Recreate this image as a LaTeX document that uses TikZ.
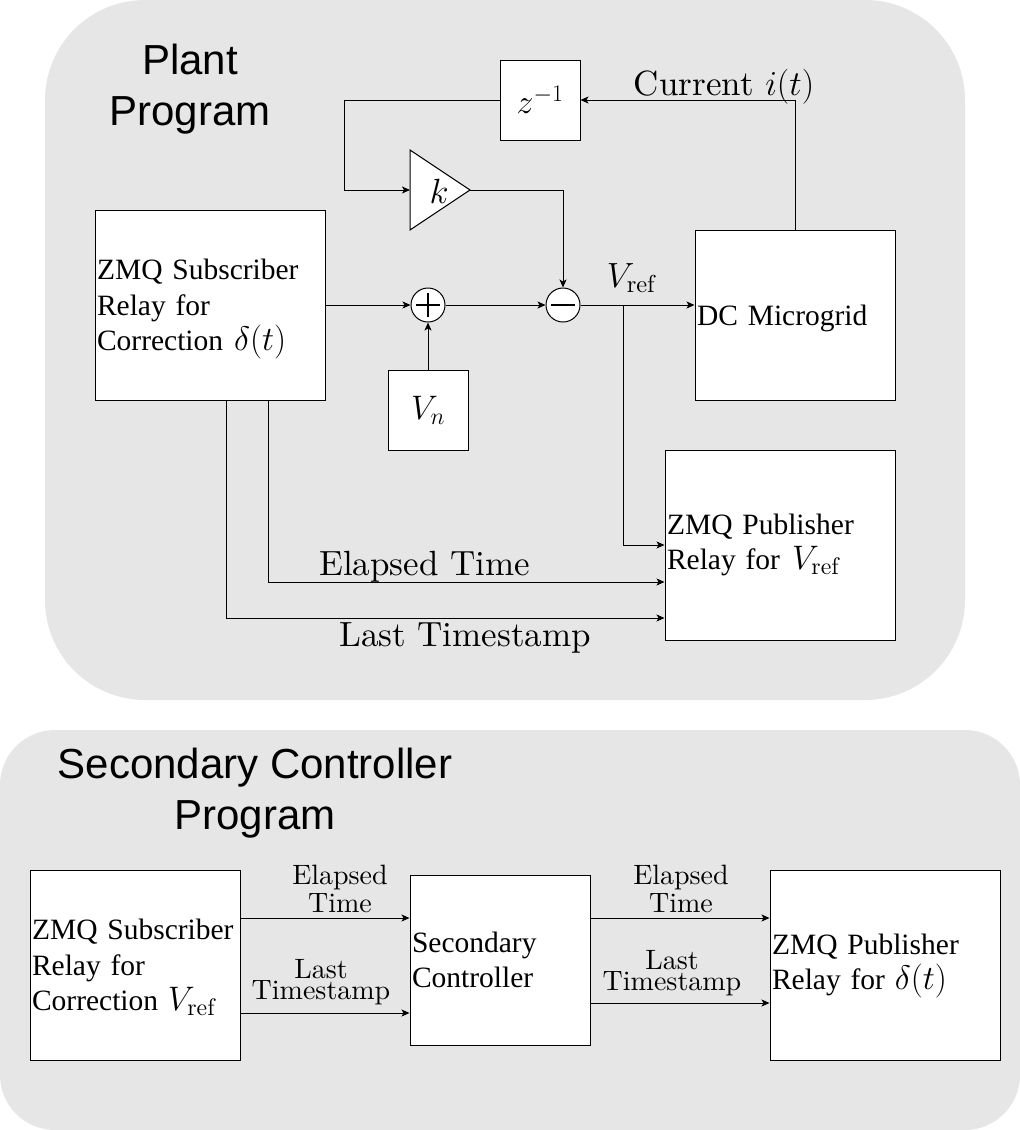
\RequirePackage{fix-cm}
\documentclass[tikz,border=0pt]{standalone}
\usepackage{fontspec}
\setmainfont{lmroman10-regular}[Extension=.otf, ItalicFont=lmroman10-italic, BoldFont=lmroman10-bold]
\newfontfamily\tnr{Liberation Serif}
\newfontfamily\arl{Liberation Sans}
\usetikzlibrary{arrows.meta}
\definecolor{bg}{HTML}{E6E6E6}
\newcommand\MyM[1]{\smash{\fontsize{34}{36}\selectfont #1}}
\begin{document}
\begin{tikzpicture}[x=1pt,y=-1pt,
  >={Stealth[length=8pt,width=7pt,inset=2pt]},
  line width=1pt,
  box/.style={draw, fill=white, line width=1pt, inner xsep=2pt, inner ysep=3pt, align=left,
    font={\tnr\fontsize{29.5}{35.5}\selectfont\hyphenpenalty10000\exhyphenpenalty10000}},
  mbox/.style={draw, fill=white, line width=1pt, minimum width=80pt, minimum height=80pt, inner sep=0pt, font=\fontsize{34}{40}\selectfont},
  conn/.style={->, line width=1pt},
  lbl/.style={inner sep=0pt, font=\fontsize{35}{40}\selectfont},
  slbl/.style={inner sep=0pt, align=center, font={\fontsize{28}{28}\selectfont}},
  slbltight/.style={inner sep=0pt, align=center, font={\fontsize{28}{21}\selectfont\lineskiplimit-50pt}},
  ttl/.style={inner sep=0pt, align=center, font=\arl\fontsize{42}{51}\selectfont},
  sumnode/.style={circle, draw, fill=white, line width=1pt, minimum size=34pt, inner sep=0pt}]
\useasboundingbox (0,0) rectangle (1020,1130);

% backgrounds
\fill[bg, rounded corners=100pt] (45,0) rectangle (965,700);
\fill[bg, rounded corners=55pt] (0,730) rectangle (1020,1130);

% titles
\node[ttl] (t1) at (190,89) {Plant\\Program};
\node[ttl] (t2) at (255,793) {Secondary Controller\\Program};

% ---------- Plant program ----------
\node[box, text width=226pt, minimum height=190pt] (sub) at (210,305)
  {ZMQ Subscriber\\Relay for\\Correction\hspace{11pt}\MyM{$\delta(t)$}};
\node[mbox] (zinv) at (540,100) {$z^{-1}$};
\draw[fill=white, line width=1pt] (410,150) -- (470,190) -- (410,230) -- cycle;
\coordinate (kin) at (410,190);
\coordinate (kout) at (470,190);
\node[lbl] (k) at (439,191) {$k$};
\node[sumnode] (plus) at (428,305) {};
\draw[line width=1.5pt] ([xshift=-12pt]plus.center) -- ([xshift=12pt]plus.center);
\draw[line width=1.5pt] ([yshift=-12pt]plus.center) -- ([yshift=12pt]plus.center);
\node[sumnode] (minus) at (563,305) {};
\draw[line width=1.5pt] ([xshift=-12pt]minus.center) -- ([xshift=12pt]minus.center);
\node[mbox] (vn) at (428,410) {$V_n$};
\node[box, text width=196pt, minimum height=170pt, text depth=0pt] (dc) at (795,315) {DC Microgrid};
\node[box, text width=226pt, minimum height=190pt] (pub) at (780,545)
  {ZMQ Publisher\\Relay for\hspace{12pt}\MyM{$V_{\mathrm{ref}}$}};

\draw[conn] (sub.east |- plus) -- (plus.west);
\draw[conn] (plus) -- (minus);
\draw[conn] (vn) -- (plus);
\draw[conn] (minus) -- (dc.west |- minus);
\coordinate (br) at (623,305);
\draw[conn] (br) |- (pub.west);
\draw[conn] (dc.north) |- (zinv.east);
\draw[conn] (zinv.west) -- ++(-155,0) |- (kin);
\draw[conn] (kout) -| (minus.north);
\draw[conn] ([xshift=58pt]sub.south) |- ([yshift=-37pt]pub.west);
\draw[conn] ([xshift=16pt]sub.south) |- ([yshift=-73pt]pub.west);

\node[lbl, anchor=base] (lvref) at (631,287) {$V_{\mathrm{ref}}$};
\node[lbl, anchor=base] (lcur) at (724,95) {Current $i(t)$};
\node[lbl, anchor=base] (lel) at (424.5,575) {Elapsed Time};
\node[lbl, anchor=base] (lls) at (465,646) {Last Timestamp};

% ---------- Secondary controller program ----------
\node[box, text width=206pt, minimum height=190pt] (sub2) at (135,965)
  {ZMQ Subscriber\\Relay for\\Correction \MyM{$V_{\mathrm{ref}}$}};
\node[box, text width=176pt, minimum height=170pt] (sc) at (500,960) {Secondary\\Controller};
\node[box, text width=226pt, minimum height=190pt] (pub2) at (885,965)
  {ZMQ Publisher\\Relay for \MyM{$\delta(t)$}};

\draw[conn] ([yshift=47pt]sub2.east) coordinate (a1) -- (a1 -| sc.west);
\draw[conn] ([yshift=-48pt]sub2.east) coordinate (a2) -- (a2 -| sc.west);
\draw[conn] ([yshift=42pt]sc.east) coordinate (a3) -- (a3 -| pub2.west);
\draw[conn] ([yshift=-43pt]sc.east) coordinate (a4) -- (a4 -| pub2.west);

\node[slbl, anchor=south] (l1) at (340,913) {Elapsed\\Time};
\node[slbltight, anchor=south] (l2) at (321,1005) {Last\\Timestamp};
\node[slbl, anchor=south] (l3) at (681,913) {Elapsed\\Time};
\node[slbltight, anchor=south] (l4) at (672,996) {Last\\Timestamp};
\end{tikzpicture}
\end{document}
